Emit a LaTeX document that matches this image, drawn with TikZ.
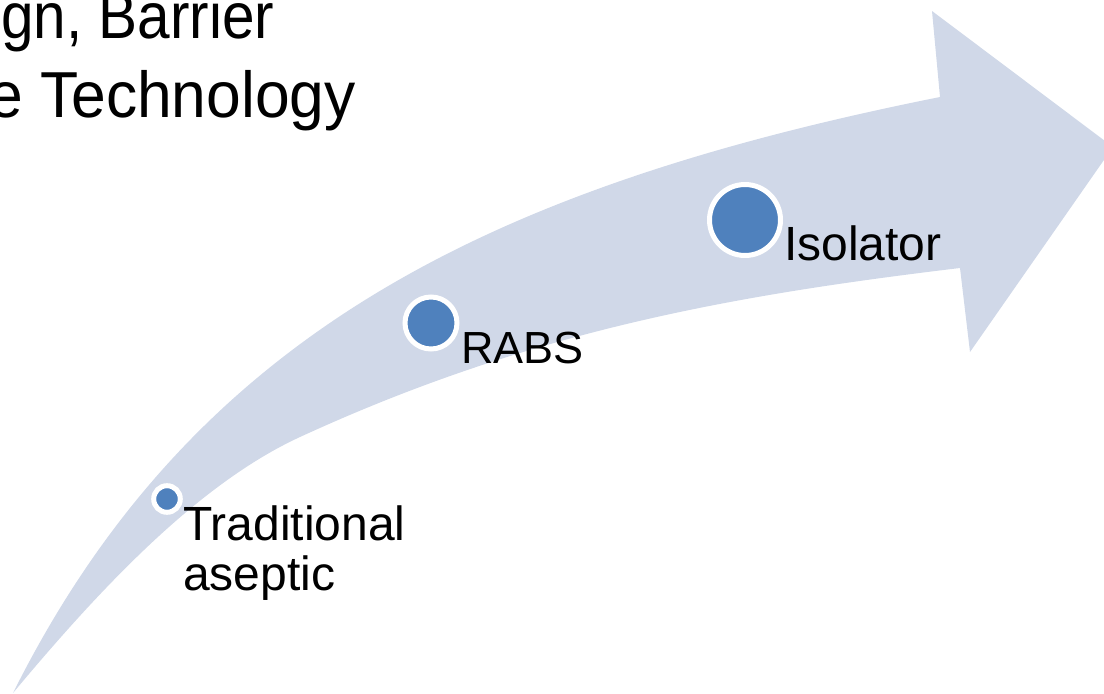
\documentclass[tikz,border=0pt]{standalone}
\usepackage{fontspec}
\setmainfont{Liberation Sans}
\newfontfamily\titlefont{Liberation Sans}[FakeStretch=0.9]
\newfontfamily\titlefontb{Liberation Sans}[FakeStretch=0.96]
\definecolor{arrowfill}{HTML}{D0D8E8}
\definecolor{dotblue}{HTML}{4F81BD}
\begin{document}
\begin{tikzpicture}[x=1pt,y=-1pt,
  stage/.style={circle,fill=dotblue,draw=white,line width=5pt,inner sep=0pt},
  lbl/.style={anchor=base west,inner sep=0pt,text=black,align=left},
  ttl/.style={inner sep=0pt,text=black}]
\useasboundingbox (0,0) rectangle (1104,694);
\clip (0,0) rectangle (1104,694);
% curved arrow
\fill[arrowfill] (13,693)
  .. controls (193,333) and (490,187) .. (940,97)
  -- (932,11) -- (1113,147) -- (970,352) -- (960,268)
  .. controls (730,295.6) and (530,331.2) .. (300,437)
  .. controls (200,483) and (103,585) .. (13,693)
  -- cycle;
% title fragment
\node[ttl,anchor=base west,font=\titlefont\fontsize{65}{78}\selectfont] (t1) at (1,38) {gn, Barrier};
\node[ttl,anchor=base east,font=\titlefontb\fontsize{65}{78}\selectfont] (t2) at (356,117) {e Technology};
% stages
\node[stage,minimum size=26.6pt] (c1) at (167,499) {};
\node[stage,minimum size=52pt] (c2) at (431,323) {};
\node[stage,minimum size=71pt] (c3) at (745,220) {};
\node[lbl,font=\fontsize{48}{50}\selectfont] (l1) at (183,590) {Traditional\\aseptic};
\node[lbl,font=\fontsize{45}{50}\selectfont] (l2) at (461,363) {RABS};
\node[lbl,font=\fontsize{48}{50}\selectfont] (l3) at (784,260) {Isolator};
\end{tikzpicture}
\end{document}
